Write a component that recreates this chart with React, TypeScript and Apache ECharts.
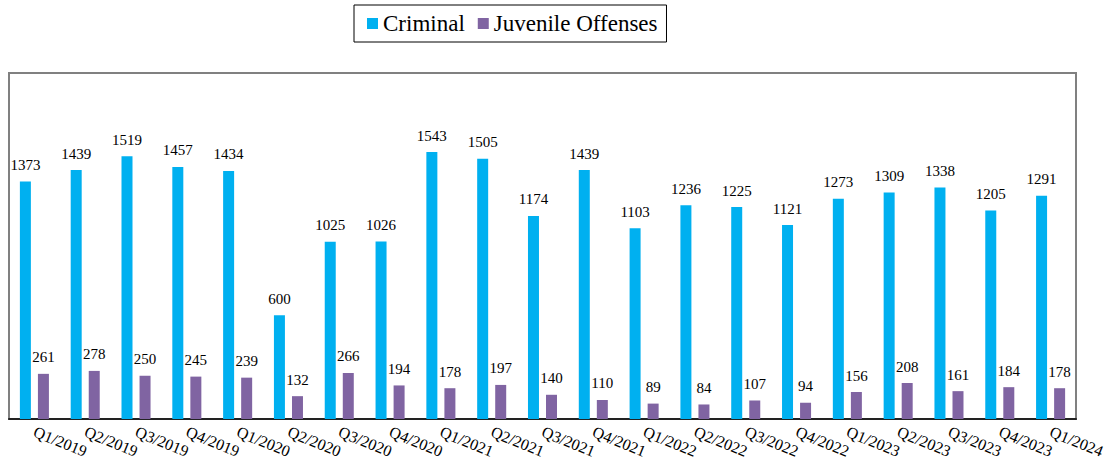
import React, { useEffect, useRef } from "react";
import * as echarts from "echarts";

const categories = [
  "Q1/2019", "Q2/2019", "Q3/2019", "Q4/2019", "Q1/2020", "Q2/2020", "Q3/2020",
  "Q4/2020", "Q1/2021", "Q2/2021", "Q3/2021", "Q4/2021", "Q1/2022", "Q2/2022",
  "Q3/2022", "Q4/2022", "Q1/2023", "Q2/2023", "Q3/2023", "Q4/2023", "Q1/2024",
];
const criminal = [1373, 1439, 1519, 1457, 1434, 600, 1025, 1026, 1543, 1505, 1174, 1439, 1103, 1236, 1225, 1121, 1273, 1309, 1338, 1205, 1291];
const juvenile = [261, 278, 250, 245, 239, 132, 266, 194, 178, 197, 140, 110, 89, 84, 107, 94, 156, 208, 161, 184, 178];

const FONT = "Liberation Serif";

export default function App() {
  const ref = useRef<HTMLDivElement>(null);
  useEffect(() => {
    const chart = echarts.init(ref.current!, null, { renderer: "svg" });
    const label = {
      show: true,
      position: "top",
      distance: 9,
      color: "#000",
      fontFamily: FONT,
      fontSize: 15,
    };
    chart.setOption({
      animation: false,
      textStyle: { fontFamily: FONT },
      legend: {
        left: 354,
        top: 5,
        padding: [7, 9, 7, 13],
        borderColor: "#000",
        borderWidth: 1,
        icon: "rect",
        itemWidth: 11,
        itemHeight: 11,
        itemGap: 13,
        textStyle: { fontFamily: FONT, fontSize: 23, color: "#000" },
        data: ["Criminal", "Juvenile Offenses"],
      },
      grid: {
        left: 9,
        right: 41,
        top: 73,
        bottom: 45,
        show: true,
        borderColor: "#808080",
        borderWidth: 2,
      },
      xAxis: {
        type: "category",
        data: categories,
        axisLine: { show: true, lineStyle: { color: "#222", width: 2 } },
        axisTick: { show: false },
        axisLabel: {
          rotate: -22,
          margin: 12,
          interval: 0,
          fontFamily: FONT,
          fontSize: 16,
          color: "#000",
        },
      },
      yAxis: {
        type: "value",
        min: 0,
        max: 2000,
        show: false,
        splitLine: { show: false },
      },
      series: [
        {
          name: "Criminal",
          type: "bar",
          data: criminal,
          barWidth: 11,
          barGap: "64%",
          itemStyle: { color: "#00B0F0" },
          label,
        },
        {
          name: "Juvenile Offenses",
          type: "bar",
          data: juvenile,
          barWidth: 11,
          itemStyle: { color: "#8064A2" },
          label,
        },
      ],
    });
    return () => chart.dispose();
  }, []);
  return (
    <div
      ref={ref}
      style={{ position: "fixed", left: 0, top: 0, width: 1117, height: 464, background: "#fff" }}
    />
  );
}
